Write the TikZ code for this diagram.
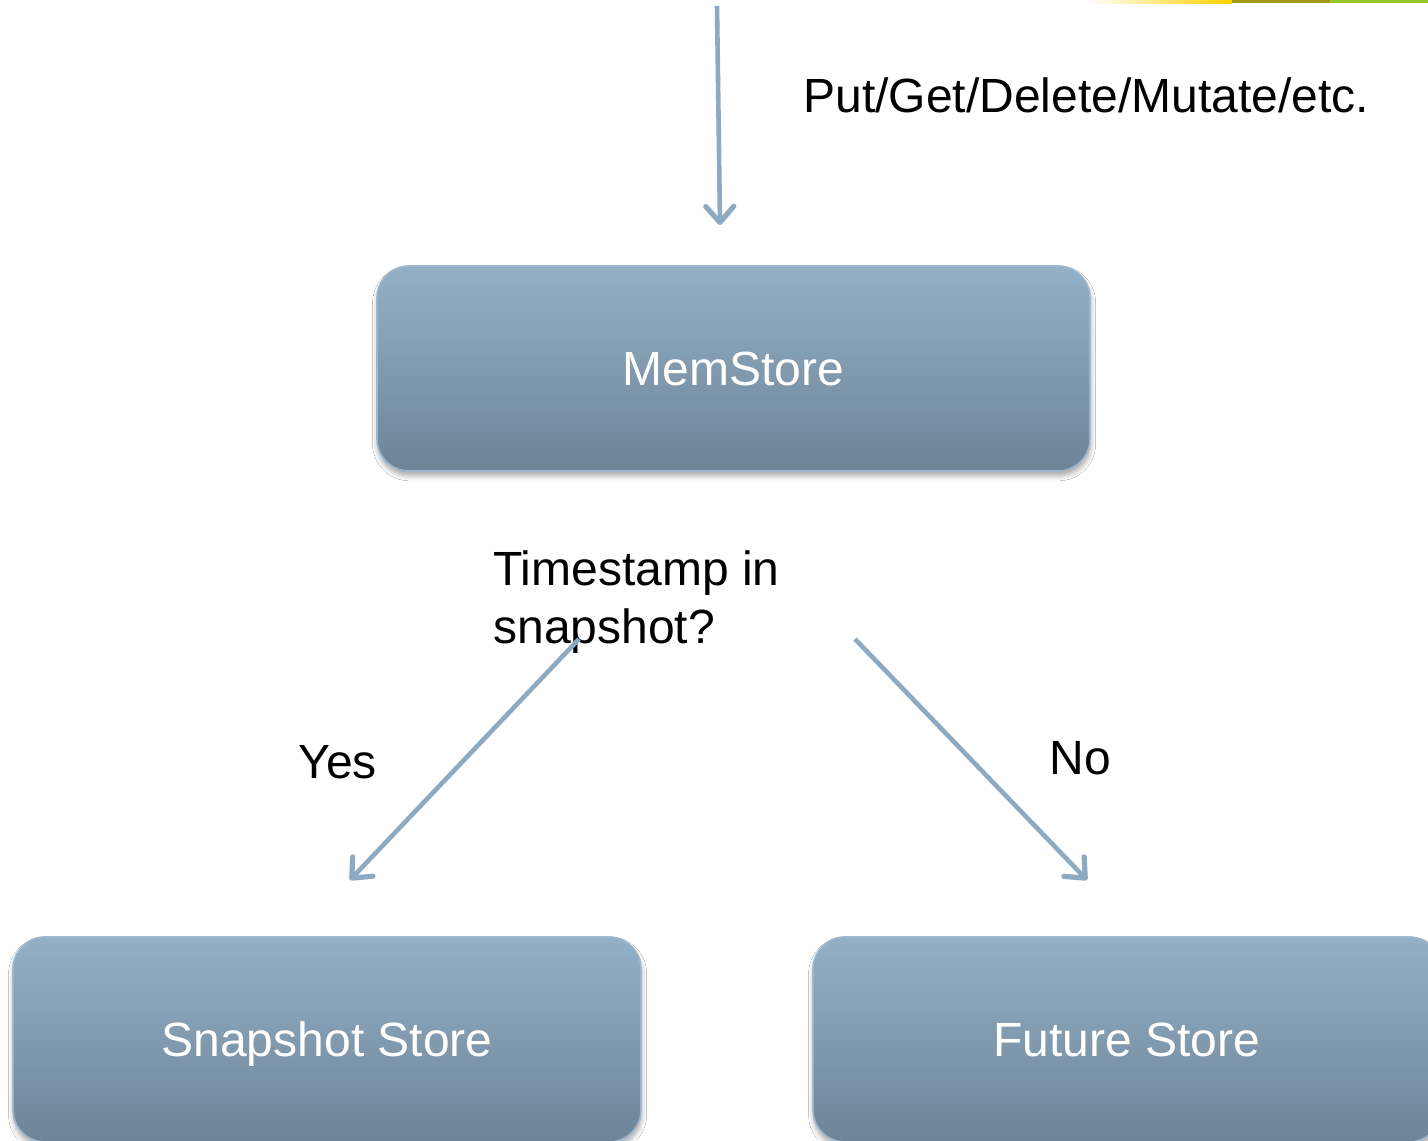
\documentclass[tikz,border=0pt]{standalone}
\usepackage{fontspec}
\setmainfont{Liberation Sans}
\usetikzlibrary{arrows.meta,shadows.blur}
\definecolor{boxtop}{HTML}{94B0C6}
\definecolor{boxbot}{HTML}{6E8497}
\definecolor{boxedge}{HTML}{9DB8CE}
\definecolor{arrowc}{HTML}{8EAAC2}
\definecolor{barY}{HTML}{FFD000}
\definecolor{barO}{HTML}{A39B12}
\definecolor{barG}{HTML}{98C620}
\tikzset{
  store/.style={draw=boxedge, line width=0.8pt, rounded corners=16pt,
    top color=boxtop, bottom color=boxbot, inner sep=0pt, text depth=0pt,
    blur shadow={shadow xshift=0.3pt, shadow yshift=-2.4pt, shadow blur radius=2.5pt, shadow blur steps=6, shadow opacity=35},
    text=white, font=\fontsize{24}{29}\selectfont},
  lbl/.style={inner sep=0pt, anchor=base west, font=\fontsize{24}{29}\selectfont, text=black},
  flow/.style={draw=arrowc, line width=2.3pt,
    -{Straight Barb[length=8pt, width=14pt, line width=2.6pt, round]}}
}
\begin{document}
\begin{tikzpicture}[x=0.5pt, y=-0.5pt]
\useasboundingbox (0,0) rectangle (1428,1140);
\clip (0,0) rectangle (1428,1140);
\fill[white] (0,0) rectangle (1428,1140);
% top decorative bar
\shade[left color=white, right color=barY] (1085,0) rectangle (1232,3);
\fill[barO] (1232,0) rectangle (1330,3);
\fill[barG] (1330,0) rectangle (1428,3);

\node[store, minimum width=356.5pt, minimum height=102.5pt] (mem) at (733.5,368.5) {MemStore};
\node[store, minimum width=314pt, minimum height=102.5pt] (snap) at (327,1039.5) {Snapshot Store};
\node[store, minimum width=314pt, minimum height=102.5pt] (fut) at (1127,1039.5) {Future Store};

\node[lbl] (ops) at (803,112) {Put/Get/Delete/Mutate/etc.};
\node[lbl, align=left] (q) at (493,643) {Timestamp in\\snapshot?};
\node[lbl] (yes) at (298,778) {Yes};
\node[lbl] (no) at (1049,774) {No};

\coordinate (topin) at (717,6);
\coordinate (topout) at (720,225);
\draw[flow] (topin) -- (topout);

\coordinate (yesA) at (579,639);
\coordinate (yesB) at (350,880);
\draw[flow] (yesA) -- (yesB);
\coordinate (noA) at (855,639);
\coordinate (noB) at (1087,880);
\draw[flow] (noA) -- (noB);
\end{tikzpicture}
\end{document}
